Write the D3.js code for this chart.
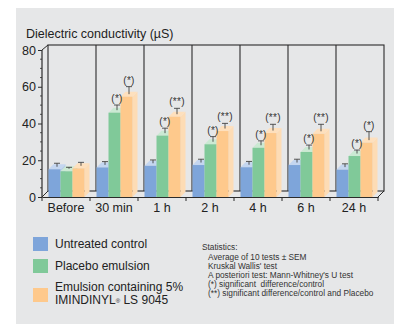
<!DOCTYPE html>
<html><head><meta charset="utf-8">
<script src="https://cdn.jsdelivr.net/npm/d3@7"></script>
<style>
html,body{margin:0;padding:0;background:#fff;}
svg{display:block;font-family:"Liberation Sans",Arial,sans-serif;}
</style></head>
<body>
<svg id="chart" width="394" height="324"></svg>
<script>
const categories = ["Before","30 min","1 h","2 h","4 h","6 h","24 h"];
const seriesNames = ["Untreated control","Placebo emulsion","Emulsion containing 5%"];
const untreated = [15.1,16.1,17.0,17.4,16.2,17.4,14.9];
const placebo   = [14.0,45.9,33.4,28.7,26.8,24.5,22.3];
const emulsion  = [15.6,54.6,43.7,35.9,34.8,34.4,29.6];
const untreatedErr = [1.9,1.8,1.8,1.8,1.8,1.8,1.8];
const placeboErr   = [0.8,2.8,2.7,2.8,2.4,2.4,1.9];
const emulsionErr  = [1.9,4.1,3.2,2.8,3.4,3.8,4.6];
const placeboSig  = ["","(*)","(*)","(*)","(*)","(*)","(*)"];
const emulsionSig = ["","(*)","(**)","(**)","(**)","(**)","(*)"];
const yTicks = [0,20,40,60,80];
const statsLines = ["Statistics:","Average of 10 tests \u00B1 SEM","Kruskal Wallis' test","A posteriori test: Mann-Whitney's U test","(*) significant  difference/control","(**) significant difference/control and Placebo"];

const series = [
  {name:seriesNames[0], values:untreated, err:untreatedErr, sig:null, front:"#7ea5da", top:"#c4d6f0", side:"#b5cbea"},
  {name:seriesNames[1], values:placebo, err:placeboErr, sig:placeboSig, front:"#80c999", top:"#cbe9d3", side:"#b6e0c2"},
  {name:seriesNames[2], values:emulsion, err:emulsionErr, sig:emulsionSig, front:"#fec98c", top:"#fee0bd", side:"#fddcb5"}
];

const svg = d3.select("#chart");
const dx = 5, dy = 5;
const wdx = 6, wdy = 6;

svg.append("rect").attr("x",16).attr("y",8).attr("width",378).attr("height",316).attr("fill","#e6e7e8");

const x = d3.scaleBand().domain(categories).range([42,378]).padding(0);
const y = d3.scaleLinear().domain([0,80]).range([197,50]);
const xi = d3.scaleBand().domain([0,1,2]).range([6.5,42.5]).padding(0);

const lineC = "#2b2b2b";
const wall = svg.append("g");
wall.append("rect").attr("x",x.range()[0]+wdx).attr("y",y(80)-wdy+1).attr("width",x.range()[1]-x.range()[0]).attr("height",y(0)-y(80)-1)
  .attr("fill","none").attr("stroke",lineC).attr("stroke-width",1.1);
categories.slice(1).forEach(c=>{
  wall.append("line").attr("x1",x(c)+wdx).attr("x2",x(c)+wdx).attr("y1",y(80)-wdy+1).attr("y2",y(0)-wdy).attr("stroke",lineC).attr("stroke-width",1.1);
});
wall.append("line").attr("x1",x.range()[0]).attr("y1",y(0)).attr("x2",x.range()[0]+wdx).attr("y2",y(0)-wdy).attr("stroke",lineC);
wall.append("line").attr("x1",x.range()[0]).attr("y1",y(80)).attr("x2",x.range()[0]+wdx).attr("y2",y(80)-wdy+1).attr("stroke",lineC);
wall.append("line").attr("x1",x.range()[1]).attr("y1",y(0)).attr("x2",x.range()[1]+wdx).attr("y2",y(0)-wdy).attr("stroke",lineC);

const bars = svg.append("g");
categories.forEach((c,i)=>{
  series.forEach((s,j)=>{
    const v = s.values[i];
    const x0 = x(c)+xi(j), w = xi.bandwidth();
    const yt = y(v), yb = y(0);
    bars.append("path").attr("d",`M${x0+w},${yt}L${x0+w+dx},${yt-dy}L${x0+w+dx},${yb-dy}L${x0+w},${yb}Z`).attr("fill",s.side);
    bars.append("path").attr("d",`M${x0},${yt}L${x0+dx},${yt-dy}L${x0+w+dx},${yt-dy}L${x0+w},${yt}Z`).attr("fill",s.top);
    bars.append("rect").attr("x",x0).attr("y",yt).attr("width",w).attr("height",yb-yt).attr("fill",s.front);
  });
  series.forEach((s,j)=>{
    const v = s.values[i], e = s.err[i];
    const cx = x(c)+xi(j)+xi.bandwidth()/2+dx/2;
    const y1 = y(v)-dy/2, y2 = y(v+e)-dy/2;
    bars.append("line").attr("x1",cx).attr("x2",cx).attr("y1",y1).attr("y2",y2).attr("stroke","#444").attr("stroke-width",0.9);
    bars.append("line").attr("x1",cx-3).attr("x2",cx+3).attr("y1",y2).attr("y2",y2).attr("stroke","#444").attr("stroke-width",0.9);
    if (s.sig && s.sig[i]) {
      bars.append("text").attr("x",cx).attr("y",y2-3).attr("text-anchor","middle").attr("font-size",10).attr("letter-spacing",0.3).attr("fill","#333").text(s.sig[i]);
    }
  });
});

const yAxis = d3.axisLeft(y).tickValues(yTicks).tickSize(4).tickPadding(2);
const ga = svg.append("g").attr("transform",`translate(${x.range()[0]},0)`).call(yAxis);
ga.select(".domain").attr("stroke",lineC).attr("stroke-width",1.2).attr("d",`M0,${y(0)}V${y(80)}`);
ga.selectAll(".tick line").attr("stroke",lineC);
ga.selectAll(".tick text").attr("font-size",12.5).attr("fill","#222").attr("font-family","Liberation Sans, Arial, sans-serif");
const minor = d3.range(5,80,5).filter(v=>v%20!==0);
ga.selectAll(".minor").data(minor).enter().append("line").attr("x1",-2).attr("x2",0).attr("y1",d=>y(d)).attr("y2",d=>y(d)).attr("stroke",lineC).attr("stroke-width",0.8);

const xAxis = d3.axisBottom(x).tickSize(0).tickPadding(6);
const gx = svg.append("g").attr("transform",`translate(0,${y(0)})`).call(xAxis);
gx.select(".domain").attr("stroke",lineC).attr("stroke-width",1.2);
gx.selectAll(".tick text").attr("font-size",12.5).attr("fill","#222").attr("font-family","Liberation Sans, Arial, sans-serif").attr("dy","0.75em");
categories.concat(["end"]).forEach((c,i)=>{
  const xx = x.range()[0] + i*x.step();
  gx.append("line").attr("x1",xx).attr("x2",xx).attr("y1",0).attr("y2",4).attr("stroke",lineC).attr("stroke-width",1);
});

svg.append("text").attr("x",26).attr("y",38).attr("font-size",12.5).attr("fill","#222").text("Dielectric conductivity (\u00B5S)");

const leg = svg.append("g");
const legY = [237,259,288];
series.forEach((s,j)=>{
  leg.append("rect").attr("x",33).attr("y",legY[j]).attr("width",15).attr("height",14).attr("fill",s.front);
});
leg.append("text").attr("x",55).attr("y",247.5).attr("font-size",12).attr("fill","#222").text(seriesNames[0]);
leg.append("text").attr("x",55).attr("y",269.5).attr("font-size",12).attr("fill","#222").text(seriesNames[1]);
leg.append("text").attr("x",55).attr("y",291).attr("font-size",12).attr("fill","#222").text(seriesNames[2]);
const t4 = leg.append("text").attr("x",55).attr("y",303.5).attr("font-size",12).attr("fill","#222");
t4.append("tspan").text("IMINDINYL");
t4.append("tspan").attr("font-size",6).attr("dy",-1).text("\u00AE");
t4.append("tspan").attr("dy",1).text("  LS 9045");

const st = svg.append("g");
const stY = [250,260,268.5,278,286.5,296];
statsLines.forEach((l,i)=>{
  st.append("text").attr("x",i===0?202:208).attr("y",stY[i]).attr("font-size",8.3).attr("fill","#333").attr("xml:space","preserve").style("white-space","pre").text(l);
});
</script>
</body></html>
